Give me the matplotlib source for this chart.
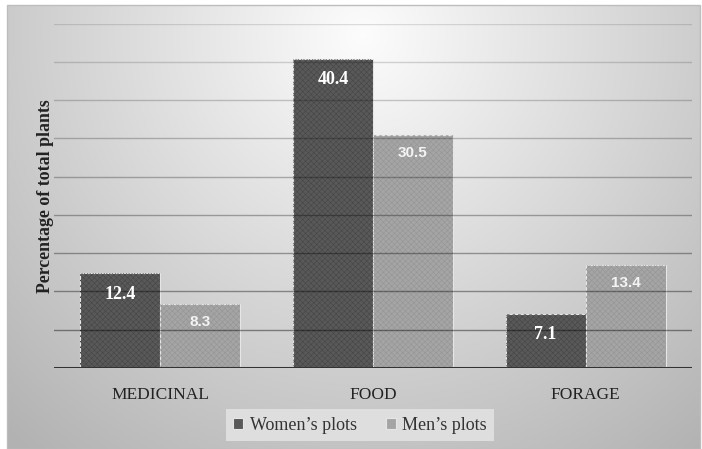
import numpy as np
import matplotlib
matplotlib.use("Agg")
import matplotlib.pyplot as plt
from matplotlib.patches import Rectangle

categories = ["MEDICINAL", "FOOD", "FORAGE"]
women = [12.4, 40.4, 7.1]
men = [8.3, 30.5, 13.4]
series_names = ["Women\u2019s plots", "Men\u2019s plots"]

W, H = 702, 449
fig = plt.figure(figsize=(W / 100, H / 100), dpi=100)
fig.patch.set_facecolor("white")

# radial gradient backdrop for the chart area
bg = fig.add_axes([0, 0, 1, 1], zorder=-10)
bg.set_xlim(0, W)
bg.set_ylim(H, 0)
bg.axis("off")
yy, xx = np.mgrid[0:H, 0:W]
r = np.sqrt(((xx - 360) / 520.0) ** 2 + ((yy - 30) / 520.0) ** 2)
shade = np.clip(0.99 - 0.28 * r, 0.70, 1.0)
img = np.dstack([shade, shade, shade])
bg.imshow(img, extent=(7, 700, 449, 5), origin="upper", aspect="auto", zorder=0)
bg.add_patch(Rectangle((7, 5), 693, 444, fill=False, edgecolor="#bdbdbd", lw=1.0, zorder=1))

ax = fig.add_axes([54 / W, (H - 368) / H, (692 - 54) / W, (368 - 23.5) / H])
ax.patch.set_alpha(0)
ymax = 45
ax.set_ylim(0, ymax)
ax.set_xlim(-0.5, 2.5)

x = np.arange(len(categories))
bw = 0.376

# bars: plain fill with light edge, then a fine crosshatch texture on top
colors = ["#595959", "#a5a5a5"]
hatch_cols = ["#464646", "#959595"]
plt.rcParams["hatch.linewidth"] = 0.4
for i, (vals, fc, hc) in enumerate(zip([women, men], colors, hatch_cols)):
    pos = x + (i - 0.5) * bw
    ax.bar(pos, vals, bw, color=fc, edgecolor="#e6e6e6", linewidth=0.8, zorder=2,
           label=series_names[i])
    ax.bar(pos, vals, bw, color="none", edgecolor=hc, hatch="xxxxxx", linewidth=0, zorder=3)

# gridlines, darker toward the baseline
ticks = np.arange(5, ymax + 0.1, 5)
for t in ticks:
    a = 0.42 - 0.30 * (t - 5) / (ymax - 5)
    ax.axhline(t, color="black", alpha=a, lw=1.0, zorder=4)
ax.axhline(0, color="#333333", lw=2.2, zorder=5)

# value labels just inside the top of each bar
px = (368 - 23.5) / ymax
for xi, v in zip(x - 0.5 * bw, women):
    ax.text(xi, v - 21 / px, f"{v}", ha="center", va="center", color="white",
            fontsize=13, fontweight="bold", family="Liberation Serif", zorder=6)
for xi, v in zip(x + 0.5 * bw, men):
    ax.text(xi, v - 18 / px, f"{v}", ha="center", va="center", color="#f4f4f4",
            fontsize=11, fontweight="bold", family="Liberation Sans", zorder=6)

for s in ax.spines.values():
    s.set_visible(False)
ax.set_yticks([])
ax.set_xticks(x)
ax.set_xticklabels(categories, family="Liberation Serif", fontsize=12.5, color="#222222")
ax.tick_params(axis="x", length=0, pad=14)
ax.set_ylabel("Percentage of total plants", family="Liberation Serif", fontsize=12.8,
              fontweight="bold", color="#222222", labelpad=0)

leg = fig.legend(*ax.get_legend_handles_labels(), loc="center",
                 bbox_to_anchor=(360 / W, 1 - 425 / H), ncol=2, frameon=True,
                 prop={"family": "Liberation Serif", "size": 13},
                 handlelength=0.55, handleheight=0.55, handletextpad=0.35, columnspacing=1.6,
                 borderpad=0.4, borderaxespad=0, fancybox=False)
leg.get_frame().set_facecolor("#dedede")
leg.get_frame().set_edgecolor("none")
leg.get_frame().set_alpha(1)
for t in leg.get_texts():
    t.set_color("#333333")

fig.savefig("out.png", dpi=100)
